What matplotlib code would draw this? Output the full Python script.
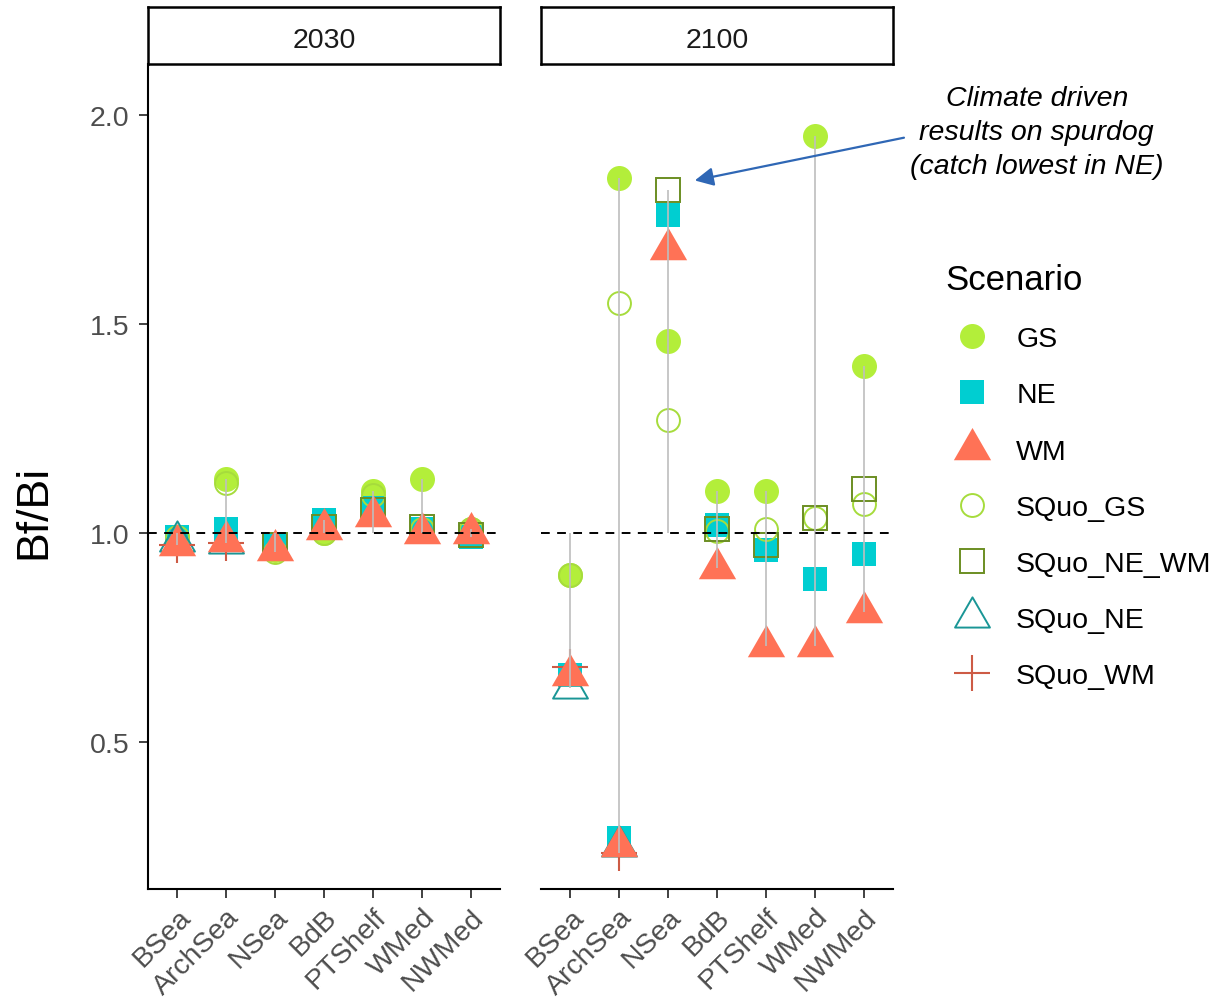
import numpy as np
import matplotlib.pyplot as plt
from matplotlib.path import Path
from matplotlib.lines import Line2D

plt.rcParams['font.family'] = ['Liberation Sans', 'DejaVu Sans']

nan = np.nan
regions = ['BSea', 'ArchSea', 'NSea', 'BdB', 'PTShelf', 'WMed', 'NWMed']
years = ['2030', '2100']

# Bf/Bi per scenario, one list per year (nan = scenario not run for that region)
gs = {'2030': [0.99, 1.13, 0.96, 1.00, 1.10, 1.13, 1.01],
      '2100': [0.90, 1.85, 1.46, 1.10, 1.10, 1.95, 1.40]}
ne = {'2030': [0.99, 1.01, 0.97, 1.03, 1.06, 1.01, 0.99],
      '2100': [0.66, 0.27, 1.76, 1.02, 0.96, 0.89, 0.95]}
wm = {'2030': [0.97, 0.98, 0.96, 1.01, 1.04, 1.00, 1.00],
      '2100': [0.66, 0.25, 1.68, 0.915, 0.73, 0.73, 0.81]}
sq_gs = {'2030': [0.99, 1.12, 0.955, 1.00, 1.09, 1.01, 1.01],
         '2100': [0.90, 1.55, 1.27, 1.005, 1.01, 1.035, 1.07]}
sq_ne_wm = {'2030': [nan, nan, 0.97, 1.015, 1.055, 1.015, 0.995],
            '2100': [nan, nan, 1.82, 1.01, 0.97, 1.035, 1.105]}
sq_ne = {'2030': [0.98, 0.975, nan, nan, nan, nan, nan],
         '2100': [0.63, 0.25, nan, nan, nan, nan, nan]}
sq_wm = {'2030': [0.97, 0.975, nan, nan, nan, nan, nan],
         '2100': [0.68, 0.235, nan, nan, nan, nan, nan]}

# R style triangle (centred on centroid)
tri = Path([(0, 1.5551), (-1.3468, -0.7776), (1.3468, -0.7776), (0, 1.5551)],
           [Path.MOVETO, Path.LINETO, Path.LINETO, Path.CLOSEPOLY])

# name, data, marker, size, colour, filled   (legend order)
scen = [
    ('GS', gs, 'o', 18, '#B3EE3A', True),
    ('NE', ne, 's', 17, '#00CED1', True),
    ('WM', wm, tri, 31, '#FF7256', True),
    ('SQuo_GS', sq_gs, 'o', 16.5, '#A6DC3C', False),
    ('SQuo_NE_WM', sq_ne_wm, 's', 17, '#6B8E23', False),
    ('SQuo_NE', sq_ne, tri, 29, '#1A9696', False),
    ('SQuo_WM', sq_wm, '+', 26, '#CD5B45', False),
]
# drawing order (alphabetical, like the data rows)
draw_order = ['GS', 'NE', 'SQuo_GS', 'SQuo_NE', 'SQuo_NE_WM', 'SQuo_WM', 'WM']


def style(m, ms, col, filled):
    if filled:
        return dict(marker=m, markersize=ms, color=col, markeredgewidth=0, linestyle='none')
    if m == '+':
        return dict(marker=m, markersize=ms, color=col, markeredgewidth=1.5, linestyle='none')
    return dict(marker=m, markersize=ms, markerfacecolor='none', markeredgecolor=col,
                markeredgewidth=1.4, linestyle='none')


fig = plt.figure(figsize=(12.18, 10.03), dpi=100)
W, H = 1218, 1003
panels = [(148, 500), (541, 893)]
top, bottom = 65, 890
tick_col = '#4D4D4D'
x = np.arange(len(regions))

axes = []
for i, yr in enumerate(years):
    l, r = panels[i]
    ax = fig.add_axes([l / W, 1 - bottom / H, (r - l) / W, (bottom - top) / H])
    axes.append(ax)
    lookup = {s[0]: s for s in scen}
    for name in draw_order:
        _, d, m, ms, col, filled = lookup[name]
        ax.plot(x, d[yr], zorder=3, **style(m, ms, col, filled))
    allv = np.array([s[1][yr] for s in scen], dtype=float)
    lo = np.minimum(np.nanmin(allv, axis=0), 1.0)
    hi = np.maximum(np.nanmax(allv, axis=0), 1.0)
    ax.vlines(x, lo, hi, color='#BEBEBE', lw=1.2, zorder=4)
    ax.axhline(1.0, color='black', lw=1.4, ls=(0, (4.5, 3.8)), zorder=5)
    ax.set_xlim(-0.6, 6.6)
    ax.set_ylim(0.148, 2.122)
    ax.set_xticks(x)
    ax.set_xticklabels(regions, rotation=45, ha='right', va='top',
                       rotation_mode='anchor', fontsize=20.5, color=tick_col)
    ax.set_yticks([0.5, 1.0, 1.5, 2.0])
    ax.set_yticklabels(['0.5', '1.0', '1.5', '2.0'], fontsize=20.5, color=tick_col)
    ax.tick_params(length=6.5, width=1.3, color='#333333', pad=4)
    ax.tick_params(axis='y', pad=7)
    for s in ['top', 'right']:
        ax.spines[s].set_visible(False)
    ax.spines['bottom'].set_linewidth(1.5)
    ax.spines['left'].set_linewidth(1.5)
    if i == 1:
        ax.spines['left'].set_visible(False)
        ax.tick_params(axis='y', left=False, labelleft=False)

    # facet strip
    sax = fig.add_axes([l / W, 1 - top / H, (r - l) / W, (top - 8) / H])
    sax.set_xticks([])
    sax.set_yticks([])
    for s in sax.spines.values():
        s.set_linewidth(1.8)
    sax.text(0.5, 0.42, yr, ha='center', va='center', fontsize=20.5, color='#1A1A1A',
             transform=sax.transAxes)

fig.text(34 / W, 1 - 512 / H, 'Bf/Bi', rotation=90, ha='center', va='center', fontsize=32)

# annotation on NSea 2100
ax2 = axes[1]
ax2.annotate('', xy=(2.49, 1.842), xytext=(6.88, 1.947),
             arrowprops=dict(arrowstyle='-|>', color='#2F67B5', lw=1.6, mutation_scale=28),
             annotation_clip=False, zorder=6)
ax2.text(9.54, 1.842 + 0.118, 'Climate driven\nresults on spurdog\n(catch lowest in NE)',
         ha='center', va='center', fontsize=20.5, style='italic', linespacing=1.4,
         clip_on=False)

# legend
handles = [Line2D([], [], **style(m, ms, col, filled)) for _, _, m, ms, col, filled in scen]
labels = [s[0] for s in scen]
leg = fig.legend(handles, labels, loc='upper left', bbox_to_anchor=(935 / W, 1 - 254 / H),
                 frameon=False, title='Scenario', title_fontsize=25, fontsize=20.5,
                 borderpad=0.35, borderaxespad=0, handlelength=1.9, handletextpad=0.6,
                 labelspacing=1.06, alignment='left')

fig.savefig('out.png', dpi=100)
